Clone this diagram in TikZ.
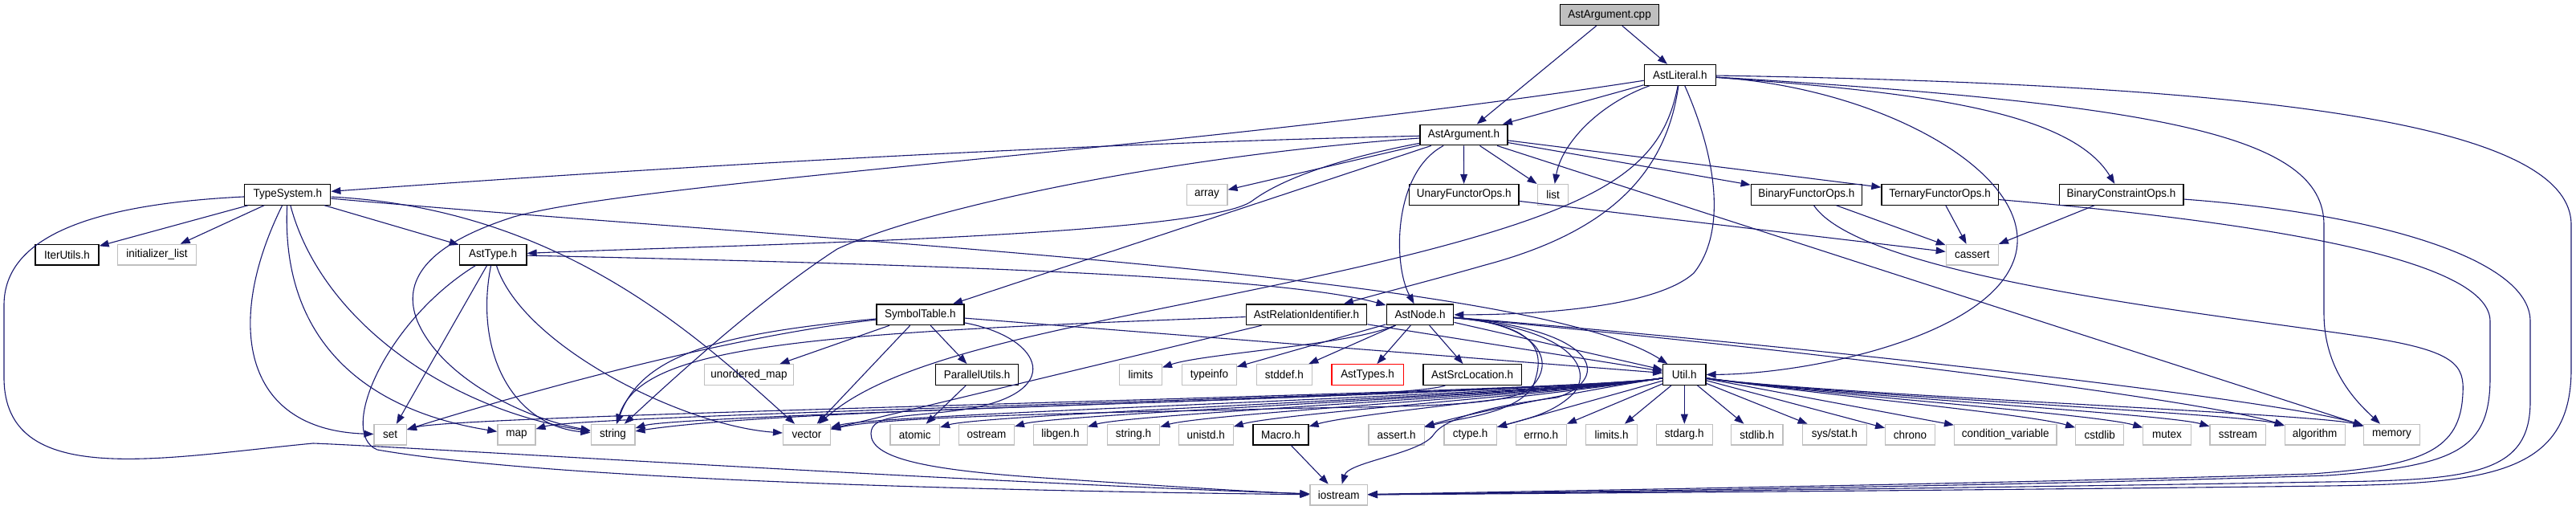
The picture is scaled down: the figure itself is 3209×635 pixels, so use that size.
\documentclass[tikz,border=0pt]{standalone}
\usepackage{fontspec}
\newfontfamily\dfont[FakeStretch=0.95]{Liberation Sans}
\usetikzlibrary{arrows.meta}
\definecolor{eb}{HTML}{191970}
\definecolor{gb}{HTML}{BFBFBF}
\tikzset{
  fbox/.style={draw=black, line width=0.6pt, fill=white, inner sep=0pt, minimum height=12.85pt, font=\dfont\fontsize{7.1}{8}\selectfont},
  sbox/.style={fbox, draw=gb},
  rbox/.style={fbox, fill=gb},
  xbox/.style={fbox, draw=red},
  e/.style={draw=eb, line width=0.55pt, -{Triangle[length=6pt,width=4.4pt]}},
}
\begin{document}
\begin{tikzpicture}[x=0.5pt,y=-0.5pt]
\fill[white] (0,0) rectangle (3209,635);
\useasboundingbox (0,0) rectangle (3209,635);
% row 0-2
\node[rbox, minimum width=61.5pt] (cpp) at (2005,18.7) {AstArgument.cpp};
\node[fbox, minimum width=44.5pt] (lit) at (2092.8,93.3) {AstLiteral.h};
\node[fbox, minimum width=54.5pt] (arg) at (1823.4,168) {AstArgument.h};
% row 3
\node[fbox, minimum width=53.5pt] (ts) at (358.3,242.3) {TypeSystem.h};
\node[sbox, minimum width=25.3pt] (array) at (1503.6,242.3) {array};
\node[fbox, minimum width=68.2pt] (unary) at (1823.7,242.3) {UnaryFunctorOps.h};
\node[sbox, minimum width=19.35pt] (list) at (1934.5,242.3) {list};
\node[fbox, minimum width=69.2pt] (binf) at (2250.4,242.3) {BinaryFunctorOps.h};
\node[fbox, minimum width=72.7pt] (tern) at (2416.6,242.3) {TernaryFunctorOps.h};
\node[fbox, minimum width=77.4pt] (bcon) at (2642.5,242.3) {BinaryConstraintOps.h};
% row 4
\node[fbox, minimum width=39.5pt] (iter) at (83.5,317.2) {IterUtils.h};
\node[sbox, minimum width=48.8pt] (initl) at (195.5,317.2) {initializer\_list};
\node[fbox, minimum width=41.85pt] (asttype) at (614.2,317.2) {AstType.h};
\node[sbox, minimum width=32.5pt] (cassert) at (2456.8,317.2) {cassert};
% row 5
\node[fbox, minimum width=54.5pt] (symt) at (1146.4,391.8) {SymbolTable.h};
\node[fbox, minimum width=75.3pt] (relid) at (1627.5,391.8) {AstRelationIdentifier.h};
\node[fbox, minimum width=41.85pt] (astnode) at (1769,391.8) {AstNode.h};
% row 6
\node[sbox, minimum width=55.5pt] (umap) at (933,466.5) {unordered\_map};
\node[fbox, minimum width=51.4pt] (par) at (1217.2,466.5) {ParallelUtils.h};
\node[sbox, minimum width=26.35pt] (limits) at (1421,466.5) {limits};
\node[sbox, minimum width=33.85pt] (typeinfo) at (1506.4,466.5) {typeinfo};
\node[sbox, minimum width=34.75pt] (stddef) at (1599.9,466.5) {stddef.h};
\node[xbox, minimum width=44.7pt] (asttypes) at (1703.6,466.5) {AstTypes.h};
\node[fbox, minimum width=61.2pt] (srcloc) at (1834.2,466.5) {AstSrcLocation.h};
\node[fbox, minimum width=26.6pt] (util) at (2098.3,466.5) {Util.h};
% row 7
\node[sbox, minimum width=20.15pt] (set) at (486.2,541.2) {set};
\node[sbox, minimum width=23.5pt] (map) at (643.4,541.2) {map};
\node[sbox, minimum width=27.4pt] (string) at (763.5,541.2) {string};
\node[sbox, minimum width=29.45pt] (vector) at (1005,541.2) {vector};
\node[sbox, minimum width=30.75pt] (atomic) at (1139.7,541.2) {atomic};
\node[sbox, minimum width=34.35pt] (ostream) at (1229,541.2) {ostream};
\node[sbox, minimum width=33.3pt] (libgen) at (1321,541.2) {libgen.h};
\node[sbox, minimum width=32.8pt] (stringh) at (1411.9,541.2) {string.h};
\node[sbox, minimum width=33.85pt] (unistd) at (1502.3,541.2) {unistd.h};
\node[fbox, minimum width=34.5pt] (macro) at (1595.5,541.2) {Macro.h};
\node[sbox, minimum width=34.6pt] (asserth) at (1739.5,541.2) {assert.h};
\node[sbox, minimum width=32.8pt] (ctype) at (1831.7,541.2) {ctype.h};
\node[sbox, minimum width=31.5pt] (errno) at (1919.8,541.2) {errno.h};
\node[sbox, minimum width=32pt] (limitsh) at (2007.6,541.2) {limits.h};
\node[sbox, minimum width=34.85pt] (stdarg) at (2098.3,541.2) {stdarg.h};
\node[sbox, minimum width=32.3pt] (stdlib) at (2188.7,541.2) {stdlib.h};
\node[sbox, minimum width=40pt] (sysstat) at (2285.3,541.2) {sys/stat.h};
\node[sbox, minimum width=30.85pt] (chrono) at (2379.5,541.2) {chrono};
\node[sbox, minimum width=63.7pt] (condvar) at (2498.3,541.2) {condition\_variable};
\node[sbox, minimum width=29.95pt] (cstdlib) at (2615.7,541.2) {cstdlib};
\node[sbox, minimum width=29.65pt] (mutex) at (2699.5,541.2) {mutex};
\node[sbox, minimum width=34.85pt] (sstream) at (2787.8,541.2) {sstream};
\node[sbox, minimum width=37.4pt] (algorithm) at (2883.7,541.2) {algorithm};
\node[sbox, minimum width=35.1pt] (memory) at (2979.5,541.2) {memory};
% row 8
\node[sbox, minimum width=35.65pt] (iostream) at (1667.7,616.2) {iostream};

% ---- edges: AstArgument.cpp
\draw[e] (cpp) -- (arg);
\draw[e] (cpp) -- (lit);
% ---- AstLiteral.h
\draw[e] (lit) -- (arg);
\draw[e] (lit) .. controls (1990,130) and (1945,180) .. (list);
\draw[e] (lit) .. controls (2075,220) and (2000,290) .. (1850,330) .. controls (1780,350) and (1720,365) .. (relid);
\draw[e] (lit) .. controls (2070,210) and (2000,260) .. (1703,330) .. controls (1400,400) and (1130,430) .. (vector);
\draw[e] (lit) .. controls (2140,200) and (2150,290) .. (2110,340) .. controls (2060,385) and (1900,392) .. (astnode);
\draw[e] (lit) .. controls (2350,110) and (2540,220) .. (2510,320) .. controls (2480,420) and (2250,466) .. (util);
\draw[e] (lit) .. controls (2400,115) and (2580,140) .. (bcon);
\draw[e] (lit) .. controls (2700,130) and (2895,170) .. (2895,280) -- (2895,390) .. controls (2895,460) and (2935,500) .. (memory);
\draw[e] (lit) .. controls (2800,105) and (3203,150) .. (3203,280) -- (3203,460) .. controls (3203,590) and (3100,602) .. (2900,605) .. controls (2500,610) and (2000,614) .. (iostream);
\draw[e] (lit) .. controls (1500,185) and (800,225) .. (640,270) .. controls (530,305) and (500,350) .. (520,400) .. controls (550,470) and (650,520) .. (string);
% ---- AstArgument.h
\draw[e] (arg) .. controls (1300,180) and (800,210) .. (ts);
\draw[e] (arg) .. controls (1680,195) and (1600,220) .. (1560,250) .. controls (1500,295) and (900,305) .. (asttype);
\draw[e] (arg) -- (array);
\draw[e] (arg) -- (unary);
\draw[e] (arg) -- (list);
\draw[e] (arg) -- (binf);
\draw[e] (arg) -- (tern);
\draw[e] (arg) -- (symt);
\draw[e] (arg) .. controls (1735,215) and (1735,330) .. (astnode);
\draw[e] (arg) .. controls (1450,195) and (1150,260) .. (1043,310) .. controls (950,370) and (840,470) .. (string);
\draw[e] (arg) -- (memory);
% ---- TypeSystem.h
\draw[e] (ts) -- (iter);
\draw[e] (ts) -- (initl);
\draw[e] (ts) -- (asttype);
\draw[e] (ts) .. controls (1000,300) and (1900,340) .. (util);
\draw[e] (ts) .. controls (280,400) and (300,535) .. (set);
\draw[e] (ts) .. controls (350,420) and (450,510) .. (map);
\draw[e] (ts) .. controls (400,400) and (560,510) .. (string);
\draw[e] (ts) .. controls (700,260) and (870,420) .. (vector);
\draw[e] (ts) .. controls (100,255) and (5,300) .. (5,380) -- (5,470) .. controls (5,610) and (200,570) .. (390,552) .. controls (500,556) and (1200,600) .. (iostream);
% ---- AstType.h
\draw[e] (asttype) .. controls (1200,330) and (1600,345) .. (astnode);
\draw[e] (asttype) -- (set);
\draw[e] (asttype) .. controls (590,440) and (640,530) .. (string);
\draw[e] (asttype) .. controls (650,430) and (850,530) .. (vector);
\draw[e] (asttype) .. controls (480,400) and (420,540) .. (470,560) .. controls (700,600) and (1300,612) .. (iostream);
% ---- SymbolTable.h
\draw[e] (symt) -- (umap);
\draw[e] (symt) -- (par);
\draw[e] (symt) -- (vector);
\draw[e] (symt) -- (util);
\draw[e] (symt) .. controls (900,420) and (650,490) .. (set);
\draw[e] (symt) .. controls (900,415) and (800,440) .. (string);
\draw[e] (symt) .. controls (1300,420) and (1330,490) .. (1200,510) .. controls (1130,520) and (1085,515) .. (1085,540) .. controls (1085,570) and (1150,585) .. (1300,595) .. controls (1450,605) and (1550,612) .. (iostream);
% ---- ParallelUtils.h, Macro.h
\draw[e] (par) -- (atomic);
\draw[e] (macro) -- (iostream);
% ---- AstRelationIdentifier.h
\draw[e] (relid) .. controls (1000,415) and (800,430) .. (string);
\draw[e] (relid) -- (vector);
\draw[e] (relid) -- (util);
% ---- AstSrcLocation.h
\draw[e] (srcloc) .. controls (1750,500) and (1000,505) .. (string);
% ---- AstNode.h
\draw[e] (astnode) -- (asttypes);
\draw[e] (astnode) -- (srcloc);
\draw[e] (astnode) -- (stddef);
\draw[e] (astnode) -- (typeinfo);
\draw[e] (astnode) .. controls (1680,430) and (1500,440) .. (limits);
\draw[e] (astnode) -- (util);
\draw[e] (astnode) .. controls (2300,440) and (2750,500) .. (algorithm);
\draw[e] (astnode) .. controls (2300,435) and (2850,500) .. (memory);
\draw[e] (astnode) .. controls (1920,405) and (1925,440) .. (1910,480) .. controls (1890,515) and (1820,520) .. (asserth);
\draw[e] (astnode) .. controls (1960,410) and (1985,460) .. (1960,490) .. controls (1935,515) and (1900,522) .. (ctype);
\draw[e] (astnode) .. controls (1990,410) and (2010,470) .. (1940,495) .. controls (1860,505) and (1800,520) .. (1786,541) .. controls (1770,565) and (1680,575) .. (iostream);
\draw[e] (astnode) .. controls (1930,405) and (1940,460) .. (1900,488) .. controls (1850,510) and (1700,505) .. (1550,510) .. controls (1300,515) and (1100,520) .. (vector);
% ---- Util.h
\foreach \t/\x in {set/486.2, map/643.4, string/763.5, vector/1005, atomic/1139.7, ostream/1229, libgen/1321, stringh/1411.9, unistd/1502.3, macro/1595.5, asserth/1739.5}
  \draw[e] (util) .. controls (1950,490) and ({\x+90},515) .. (\t);
\foreach \t in {ctype, errno, limitsh, stdarg, stdlib, sysstat, chrono, condvar}
  \draw[e] (util) -- (\t);
\foreach \t/\x in {cstdlib/2615.7, mutex/2699.5, sstream/2787.8, algorithm/2883.7, memory/2979.5}
  \draw[e] (util) .. controls (2250,490) and ({\x-90},515) .. (\t);
% ---- functor ops
\draw[e] (unary) -- (cassert);
\draw[e] (binf) -- (cassert);
\draw[e] (tern) -- (cassert);
\draw[e] (bcon) -- (cassert);
\draw[e] (binf) .. controls (2320,345) and (2750,390) .. (2950,420) .. controls (3060,437) and (3070,455) .. (3068,490) .. controls (3065,560) and (3020,580) .. (2880,590) .. controls (2500,602) and (2000,610) .. (iostream);
\draw[e] (tern) .. controls (2800,275) and (3102,320) .. (3102,400) -- (3102,470) .. controls (3102,560) and (3060,580) .. (2900,592) .. controls (2500,605) and (2000,612) .. (iostream);
\draw[e] (bcon) .. controls (2950,265) and (3152,320) .. (3152,400) -- (3152,500) .. controls (3152,590) and (3080,598) .. (2900,600) .. controls (2500,607) and (2000,613) .. (iostream);
\end{tikzpicture}
\end{document}
